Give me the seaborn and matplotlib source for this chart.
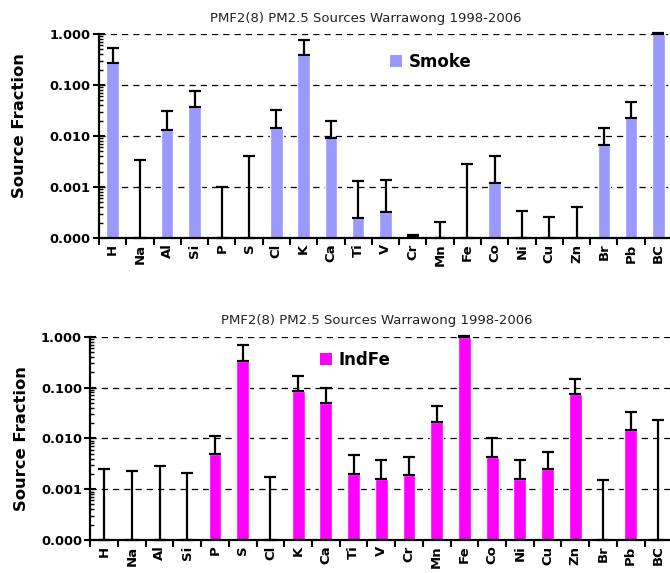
import numpy as np
import pandas as pd
import matplotlib
matplotlib.use("Agg")
import matplotlib.pyplot as plt
import seaborn as sns
from matplotlib.patches import Patch
from matplotlib.ticker import LogLocator, FixedLocator, NullFormatter

elements = ["H", "Na", "Al", "Si", "P", "S", "Cl", "K", "Ca", "Ti", "V", "Cr",
            "Mn", "Fe", "Co", "Ni", "Cu", "Zn", "Br", "Pb", "BC"]

# Smoke profile: source fraction and top of the uncertainty bar
smoke_val = [0.266, 0.0, 0.0131, 0.0365, 0.0, 0.0, 0.0146, 0.382, 0.0090, 0.000243,
             0.00032, 0.000107, 0.0, 0.0, 0.00118, 0.0, 0.0, 0.0, 0.0066, 0.0225, 1.0]
smoke_err = [0.52, 0.0034, 0.031, 0.076, 0.00098, 0.0041, 0.0328, 0.76, 0.020, 0.00131,
             0.00138, 0.000112, 0.000204, 0.0028, 0.0041, 0.000346, 0.000263, 0.000405,
             0.0146, 0.047, 1.04]

# IndFe profile
indfe_val = [0.0, 0.0, 0.0, 0.0, 0.0050, 0.332, 0.0, 0.085, 0.050, 0.0020,
             0.00161, 0.00188, 0.0213, 1.0, 0.0042, 0.00161, 0.00246, 0.073, 0.0, 0.0144, 0.0]
indfe_err = [0.0025, 0.0023, 0.0029, 0.0021, 0.0111, 0.70, 0.00171, 0.171, 0.099, 0.0048,
             0.0037, 0.0042, 0.0426, 1.04, 0.010, 0.0037, 0.0055, 0.147, 0.00149, 0.0325, 0.0233]

title = "PMF2(8) PM2.5 Sources Warrawong 1998-2006"
ytick_vals = [0.0001, 0.001, 0.01, 0.1, 1.0]
ytick_labels = ["0.000", "0.001", "0.010", "0.100", "1.000"]

sns.set_theme(style="white")
plt.rcParams["font.family"] = ["DejaVu Sans"]
plt.rcParams.update({"text.color": "black", "axes.labelcolor": "black",
                     "xtick.color": "black", "ytick.color": "black"})

fig = plt.figure(figsize=(6.70, 5.73), dpi=100)
W, H = 670, 573


def panel(rect, values, tops, color, label, title_x, legend_xy, ylabel_pad, ylabel_y):
    ax = fig.add_axes(rect)
    df = pd.DataFrame({"element": elements, "value": values})
    sns.barplot(data=df, x="element", y="value", color=color, saturation=1,
                width=0.46, ax=ax, errorbar=None, zorder=2)
    ax.set_yscale("log")
    ymin = ytick_vals[0]
    ax.set_ylim(ymin, 1.0)
    ax.set_xlim(-0.5, len(elements) - 0.5)

    # one-sided (upper) uncertainty bars, starting at the bar top or the axis floor
    x = np.arange(len(elements))
    base = np.maximum(np.array(values), ymin)
    upper = np.array(tops) - base
    ax.errorbar(x, base, yerr=[np.zeros_like(upper), upper], fmt="none",
                ecolor="black", elinewidth=1.6, capsize=4.2, capthick=1.6,
                zorder=3, clip_on=False)

    for y in ytick_vals[1:]:
        ax.axhline(y, color="black", lw=0.9, ls=(0, (5, 4)), zorder=1)

    ax.yaxis.set_major_locator(FixedLocator(ytick_vals))
    ax.set_yticklabels(ytick_labels, fontsize=9.3, fontweight="bold")
    ax.yaxis.set_minor_locator(LogLocator(base=10, subs=np.arange(2, 10)))
    ax.yaxis.set_minor_formatter(NullFormatter())
    ax.tick_params(axis="y", which="major", direction="inout", length=8,
                   width=1.5, color="black", left=True, pad=2)
    ax.tick_params(axis="y", which="minor", direction="in", length=3,
                   width=1.0, color="black", left=True)

    # tick marks between categories, labels centred under each bar
    ax.set_xticks(np.arange(len(elements) + 1) - 0.5)
    ax.set_xticklabels([])
    ax.set_xticks(x, minor=True)
    ax.set_xticklabels(elements, minor=True, rotation=90, fontsize=9.5,
                       fontweight="bold")
    ax.tick_params(axis="x", which="major", direction="out", length=5,
                   width=1.5, color="black", bottom=True)
    ax.tick_params(axis="x", which="minor", length=0, pad=4)

    for side in ("top", "right"):
        ax.spines[side].set_visible(False)
    for side in ("left", "bottom"):
        ax.spines[side].set_color("black")
        ax.spines[side].set_linewidth(1.6)

    ax.set_xlabel("")
    ax.set_ylabel("Source Fraction", fontsize=11.8, fontweight="bold",
                  labelpad=ylabel_pad)
    ax.yaxis.label.set_y(ylabel_y)
    ax.set_title(title, fontsize=9.5, x=title_x, pad=9, color="#222222")

    ax.legend(handles=[Patch(facecolor=color, edgecolor="none", label=label)],
              loc="center left", bbox_to_anchor=legend_xy, frameon=False,
              prop={"weight": "bold", "size": 12}, handlelength=0.7,
              handleheight=0.7, handletextpad=0.4, borderpad=0, borderaxespad=0)
    return ax


top_rect = [99 / W, 1 - 238 / H, 573 / W, 204 / H]
bot_rect = [90.3 / W, 1 - 540 / H, 582 / W, 203.3 / H]

panel(top_rect, smoke_val, smoke_err, "#9999FF", "Smoke", 0.466, (0.508, 0.863), 16, 0.55)
panel(bot_rect, indfe_val, indfe_err, "#FF00FF", "IndFe", 0.492, (0.395, 0.885), 8.5, 0.5)

fig.savefig("out.png", dpi=100)
